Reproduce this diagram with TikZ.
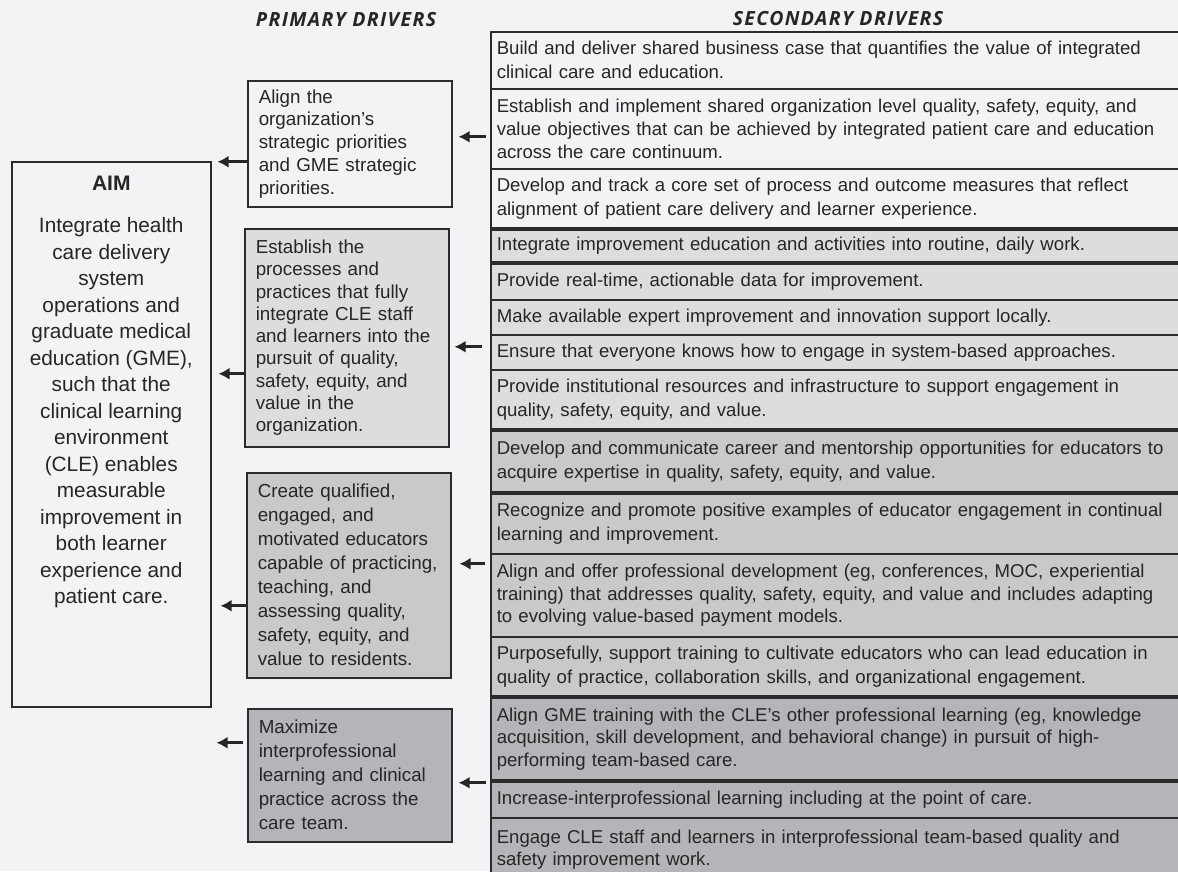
\documentclass[tikz,border=0pt]{standalone}
\usepackage{fontspec}
\setmainfont{Liberation Sans}
\newfontfamily\headfont{Open Sans}[LetterSpace=7]
\usepackage{tikz}
\usetikzlibrary{arrows.meta,positioning}
\usepackage{xcolor}
\definecolor{PageGray}{HTML}{F2F3F5}
\definecolor{ShadeA}{HTML}{DCDDDF}
\definecolor{ShadeB}{HTML}{C8C9CB}
\definecolor{ShadeC}{HTML}{B4B5B8}
\definecolor{Edge}{HTML}{2B2B2B}
\definecolor{Ink}{HTML}{262626}

\begin{document}
\begin{tikzpicture}[x=1pt,y=-1pt,>=Latex,
  every node/.style={font=\fontsize{18.6}{24}\selectfont,text=Ink},
  heading/.style={font=\headfont\bfseries\itshape\fontsize{19.5}{22}\selectfont},
  secrow/.style={draw=Edge,line width=1.5pt,anchor=north west,
    inner xsep=6pt,inner ysep=0pt,text width=700pt,align=left},
  primbox/.style={draw=Edge,line width=1.5pt,anchor=north west,
    inner xsep=11pt,inner ysep=0pt,text width=182pt,align=left},
  feed/.style={draw=Ink,line width=3pt,-{Latex[length=11pt,width=12pt]}}]
  \fill[PageGray] (0,0) rectangle (1178,871);
  \useasboundingbox (0,0) rectangle (1178,871);
  % headings
  \node[heading] (hprim) at (346,20) {PRIMARY DRIVERS};
  \node[heading] (hsec) at (838,19) {SECONDARY DRIVERS};
  % aim
  \node[draw=Edge,line width=1.5pt,anchor=north west,inner sep=0pt,fill=PageGray] (aim) at (11,161)
    {\parbox[t][545pt][t]{199pt}{\centering\vspace*{14.5pt}%
      {\fontsize{21}{24}\selectfont\bfseries AIM\par}\vspace{15.5pt}%
      {\fontsize{20.8}{26.5}\selectfont Integrate health\\care delivery\\system\\operations and\\
       graduate medical\\education (GME),\\such that the\\clinical learning\\environment\\
       (CLE) enables\\measurable\\improvement in\\both learner\\experience and\\patient care.\par}}};
  % primary drivers
  \node[primbox,fill=PageGray,minimum width=204pt,minimum height=126pt,
    font=\fontsize{18.8}{22.75}\selectfont] (prim1) at (247,80)
    {Align the\\organization's\\strategic priorities\\and GME strategic\\priorities.};
  \node[primbox,fill=ShadeA,minimum width=204pt,minimum height=218pt,
    font=\fontsize{18.8}{22.25}\selectfont] (prim2) at (244,228)
    {Establish the\\processes and\\practices that fully\\integrate CLE staff\\and learners into the\\
     pursuit of quality,\\safety, equity, and\\value in the\\organization.};
  \node[primbox,fill=ShadeB,minimum width=203pt,minimum height=205pt,
    font=\fontsize{18.8}{24}\selectfont] (prim3) at (246,472)
    {Create qualified,\\engaged, and\\motivated educators\\capable of practicing,\\teaching, and\\
     assessing quality,\\safety, equity, and\\value to residents.};
  \node[primbox,fill=ShadeC,minimum width=204pt,minimum height=133pt,
    font=\fontsize{18.8}{24}\selectfont] (prim4) at (247,708)
    {Maximize\\interprofessional\\learning and clinical\\practice across the\\care team.};
  % secondary drivers
  \node[secrow,fill=PageGray,minimum height=57pt] (sec1) at (490,31)
    {Build and deliver shared business case that quantifies the value of integrated\\
     clinical care and education.};
  \node[secrow,fill=PageGray,minimum height=80pt,font=\fontsize{18.6}{23}\selectfont] (sec2) at (490,88)
    {Establish and implement shared organization level quality, safety, equity, and\\
     value objectives that can be achieved by integrated patient care and education\\
     across the care continuum.};
  \node[secrow,fill=PageGray,minimum height=59pt] (sec3) at (490,168)
    {Develop and track a core set of process and outcome measures that reflect\\
     alignment of patient care delivery and learner experience.};
  \node[secrow,fill=ShadeA,minimum height=32pt] (sec4) at (490,229)
    {Integrate improvement education and activities into routine, daily work.};
  \node[secrow,fill=ShadeA,minimum height=36pt] (sec5) at (490,263)
    {Provide real-time, actionable data for improvement.};
  \node[secrow,fill=ShadeA,minimum height=35pt] (sec6) at (490,299)
    {Make available expert improvement and innovation support locally.};
  \node[secrow,fill=ShadeA,minimum height=35pt] (sec7) at (490,334)
    {Ensure that everyone knows how to engage in system-based approaches.};
  \node[secrow,fill=ShadeA,minimum height=59pt] (sec8) at (490,369)
    {Provide institutional resources and infrastructure to support engagement in\\
     quality, safety, equity, and value.};
  \node[secrow,fill=ShadeB,minimum height=61pt] (sec9) at (490,430)
    {Develop and communicate career and mentorship opportunities for educators to\\
     acquire expertise in quality, safety, equity, and value.};
  \node[secrow,fill=ShadeB,minimum height=60pt] (sec10) at (490,493)
    {Recognize and promote positive examples of educator engagement in continual\\
     learning and improvement.};
  \node[secrow,fill=ShadeB,minimum height=83pt,font=\fontsize{18.6}{22.5}\selectfont] (sec11) at (490,553)
    {Align and offer professional development (eg, conferences, MOC, experiential\\
     training) that addresses quality, safety, equity, and value and includes adapting\\
     to evolving value-based payment models.};
  \node[secrow,fill=ShadeB,minimum height=59pt] (sec12) at (490,636)
    {Purposefully, support training to cultivate educators who can lead education in\\
     quality of practice, collaboration skills, and organizational engagement.};
  \node[secrow,fill=ShadeC,minimum height=82pt,font=\fontsize{18.6}{22.5}\selectfont] (sec13) at (490,697)
    {Align GME training with the CLE's other professional learning (eg, knowledge\\
     acquisition, skill development, and behavioral change) in pursuit of high-\\
     performing team-based care.};
  \node[secrow,fill=ShadeC,minimum height=36pt] (sec14) at (490,781)
    {Increase-interprofessional learning including at the point of care.};
  \node[secrow,fill=ShadeC,minimum height=64pt,font=\fontsize{18.6}{22}\selectfont] (sec15) at (490,817)
    {Engage CLE staff and learners in interprofessional team-based quality and\\
     safety improvement work.};
  % arrows secondary -> primary
  \coordinate (s1) at ([yshift=-8pt]sec2.west);
  \coordinate (s2) at ([yshift=5.5pt]sec7.west);
  \coordinate (s3) at ([yshift=31.5pt]sec11.west);
  \coordinate (s4) at ([yshift=17pt]sec14.west);
  \draw[feed,shorten <=4pt,shorten >=6pt] (s1) -- (s1 -| prim1.east);
  \draw[feed,shorten <=8pt,shorten >=5pt] (s2) -- (s2 -| prim2.east);
  \draw[feed,shorten <=5pt,shorten >=8pt] (s3) -- (s3 -| prim3.east);
  \draw[feed,shorten <=4pt,shorten >=6pt] (s4) -- (s4 -| prim4.east);
  % arrows primary -> aim
  \coordinate (p1) at ([yshift=-18pt]prim1.west);
  \coordinate (p2) at ([yshift=-36pt]prim2.west);
  \coordinate (p3) at ([yshift=-30.5pt]prim3.west);
  \coordinate (p4) at ([yshift=32.5pt]prim4.west);
  \draw[feed,shorten >=6pt] (p1) -- (p1 -| aim.east);
  \draw[feed,shorten >=7pt] (p2) -- (p2 -| aim.east);
  \draw[feed,shorten >=9pt] (p3) -- (p3 -| aim.east);
  \draw[feed,shorten <=4pt,shorten >=5pt] (p4) -- (p4 -| aim.east);
\end{tikzpicture}
\end{document}
